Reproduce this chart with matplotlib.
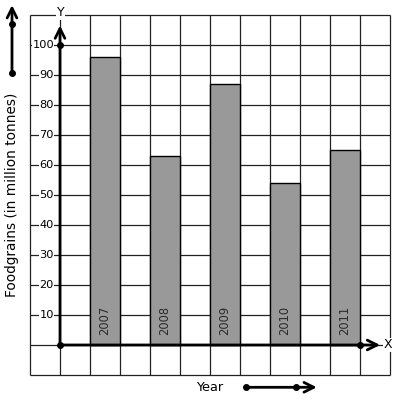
import matplotlib
matplotlib.use("Agg")
import matplotlib.pyplot as plt

# ---- data ----
years = ["2007", "2008", "2009", "2010", "2011"]
production = [96, 63, 87, 54, 65]
y_ticks = [10, 20, 30, 40, 50, 60, 70, 80, 90, 100]
y_label = "Foodgrains (in million tonnes)"
x_label = "Year"

W, H = 397, 401
fig = plt.figure(figsize=(W / 100, H / 100), dpi=100)
ax = fig.add_axes([0, 0, 1, 1])
ax.set_axis_off()
# 1 x-unit = 30 px, 1 y-unit = 3 px; origin at pixel (60, 345)
ax.set_xlim(-60 / 30, (W - 60) / 30)
ax.set_ylim((345 - H) / 3, 345 / 3)

grid_c = "#222222"
# grid
for gx in range(-1, 12):
    ax.plot([gx, gx], [-10, 110], color=grid_c, lw=0.9, zorder=1, solid_capstyle="butt")
for gy in range(-10, 111, 10):
    ax.plot([-1, 11], [gy, gy], color=grid_c, lw=0.9, zorder=1, solid_capstyle="butt")

# bars
xpos = [1.5 + 2 * i for i in range(len(years))]
ax.bar(xpos, production, width=1.0, color="#999999", edgecolor="black",
       linewidth=1.0, zorder=2)
for x, yr in zip(xpos, years):
    ax.text(x, 3.3, yr, rotation=90, ha="center", va="bottom",
            fontsize=8.3, color="#2a2a2a", zorder=3)

# axes with arrows
ax.annotate("", xy=(10.67, 0), xytext=(0, 0),
            arrowprops=dict(arrowstyle="->,head_length=0.7,head_width=0.35",
                            lw=2, color="black", shrinkA=0, shrinkB=0), zorder=4)
ax.annotate("", xy=(0, 106.5), xytext=(0, 0),
            arrowprops=dict(arrowstyle="->,head_length=0.7,head_width=0.35",
                            lw=2, color="black", shrinkA=0, shrinkB=0), zorder=4)
ax.plot([0, 0, 10], [0, 100, 0], "o", color="black", ms=4, zorder=5)

# tick labels
for t in y_ticks:
    ax.text(-0.2, t, str(t), ha="right", va="center", fontsize=8.2, color="black",
            bbox=dict(facecolor="white", edgecolor="none", pad=0.2), zorder=3)

ax.text(0.03, 110.8, "Y", ha="center", va="center", fontsize=9,
        bbox=dict(facecolor="white", edgecolor="none", pad=0.5), zorder=3)
ax.text(10.93, 0, "X", ha="center", va="center", fontsize=9,
        bbox=dict(facecolor="white", edgecolor="none", pad=0.5), zorder=3)

# axis titles
ax.text(-1.6, 50, y_label, rotation=90, ha="center", va="center", fontsize=9.8)
ax.text(5.0, -14.3, x_label, ha="center", va="center", fontsize=9.3)

# decorative arrows
ax.annotate("", xy=(8.56, -14.1), xytext=(6.19, -14.1),
            arrowprops=dict(arrowstyle="->,head_length=0.7,head_width=0.35",
                            lw=2, color="black", shrinkA=0, shrinkB=0))
ax.plot([6.19, 7.87], [-14.1, -14.1], "o", color="black", ms=4)
ax.annotate("", xy=(-1.6, 113.3), xytext=(-1.6, 90.7),
            arrowprops=dict(arrowstyle="->,head_length=0.7,head_width=0.35",
                            lw=2, color="black", shrinkA=0, shrinkB=0))
ax.plot([-1.6, -1.6], [107, 90.7], "o", color="black", ms=4)

fig.savefig("out.png", dpi=100)
